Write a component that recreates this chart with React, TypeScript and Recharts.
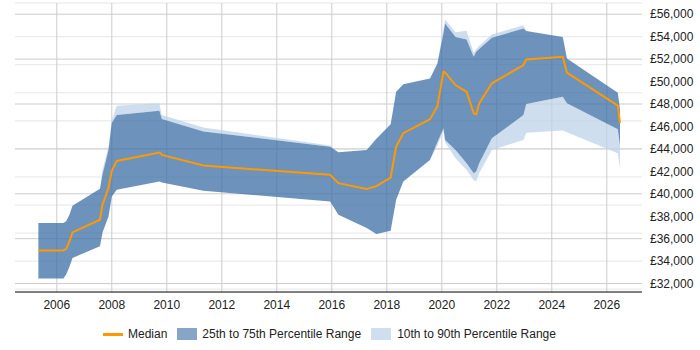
import React from 'react';
import { ComposedChart, Area, Line, XAxis, YAxis, CartesianGrid, Legend } from 'recharts';

// salary percentiles over time
const years = [
  2005.33, 2006.24, 2006.34, 2006.46, 2006.57, 2007.57, 2007.66, 2007.88, 2008.0, 2008.18,
  2009.73, 2009.82, 2011.33, 2015.94, 2016.24, 2017.27, 2017.62, 2018.14, 2018.34, 2018.6,
  2019.57, 2019.84, 2020.06, 2020.12, 2020.5, 2020.9, 2021.16, 2021.25, 2021.36, 2021.82,
  2022.97, 2023.07, 2024.4, 2024.55, 2026.4, 2026.48,
];
const median = [
  34950, 34950, 35100, 35760, 36560, 37690, 39020, 40510, 42040, 42930,
  43670, 43470, 42520, 41690, 40950, 40440, 40680, 41450, 44200, 45400,
  46650, 47800, 50870, 50800, 49690, 49090, 47170, 47080, 48060, 49840,
  51470, 51970, 52210, 50790, 47850, 46300,
];
const p25 = [
  32450, 32450, 32800, 33500, 34290, 35320, 36530, 37980, 39760, 40350,
  41100, 41000, 40270, 39320, 38130, 36950, 36420, 36700, 39470, 41090,
  43020, 44600, 45840, 44800, 43910, 42730, 41840, 41990, 42730, 44950,
  47020, 48000, 48650, 48060, 45750, 44300,
];
const p75 = [
  37400, 37400, 37550, 38130, 38930, 40440, 41700, 43900, 46300, 47020,
  47400, 46670, 45540, 44200, 43710, 43910, 44900, 46200, 49090, 49750,
  50280, 51620, 54300, 55170, 53980, 53750, 52210, 52650, 52900, 53900,
  54730, 54500, 53980, 52060, 49000, 47500,
];
const p10 = [
  32450, 32450, 32800, 33500, 34290, 35320, 36530, 37980, 39760, 40350,
  41100, 41000, 40270, 39320, 38130, 36950, 36420, 36700, 39470, 41090,
  43020, 44300, 45600, 44600, 43170, 42130, 41240, 41090, 41840, 43910,
  44800, 45450, 45630, 45480, 43620, 42300,
];
const p90 = [
  37400, 37400, 37550, 38130, 38930, 40440, 42130, 44200, 46580, 47850,
  48060, 47020, 45900, 44300, 43710, 43910, 44900, 46200, 49090, 49750,
  50280, 51620, 54700, 55530, 54400, 54520, 52600, 52900, 53200, 54200,
  55020, 54500, 53980, 52060, 49000, 47500,
];

const yearTicks = [2006, 2008, 2010, 2012, 2014, 2016, 2018, 2020, 2022, 2024, 2026];
const salaryTicks = [32000, 34000, 36000, 38000, 40000, 42000, 44000, 46000, 48000, 50000, 52000, 54000, 56000];
const minorTicks = Array.from({ length: 52 }, (_, i) => 31500 + i * 500);

const rows = years.map((year, i) => ({
  year,
  median: median[i],
  lowBand: [p10[i], p25[i]],
  midBand: [p25[i], p75[i]],
  highBand: [p75[i], p90[i]],
}));

const FONT = '"Liberation Sans", Arial, sans-serif';

const ChartLegend = () => (
  <div
    style={{
      display: 'flex',
      alignItems: 'center',
      height: 24,
      paddingLeft: 103,
      fontFamily: FONT,
      fontSize: 12,
      color: '#222',
    }}
  >
    <span style={{ width: 20, height: 3, background: '#ff9900', display: 'inline-block' }} />
    <span style={{ marginLeft: 5 }}>Median</span>
    <span style={{ marginLeft: 10, width: 20, height: 12, background: '#87a5c6', display: 'inline-block' }} />
    <span style={{ marginLeft: 5 }}>25th to 75th Percentile Range</span>
    <span style={{ marginLeft: 10, width: 20, height: 12, background: '#d0dfef', display: 'inline-block' }} />
    <span style={{ marginLeft: 6 }}>10th to 90th Percentile Range</span>
  </div>
);

export default function App() {
  return (
    <div style={{ position: 'absolute', left: 0, top: 0, width: 700, height: 350, background: '#fff' }}>
      <ComposedChart width={700} height={350} data={rows} margin={{ top: 3, right: 0, left: 15, bottom: 4 }}>
        <CartesianGrid horizontalValues={minorTicks} vertical={false} stroke="#e6e6e6" />
        <CartesianGrid horizontalValues={salaryTicks} verticalValues={yearTicks} stroke="#cccccc" />
        <XAxis
          dataKey="year"
          type="number"
          domain={[2004.48, 2027.28]}
          ticks={yearTicks}
          allowDataOverflow
          tickLine={false}
          axisLine={{ stroke: '#000' }}
          height={30}
          tick={{ fontSize: 12, fill: '#222', fontFamily: FONT }}
        />
        <YAxis
          orientation="right"
          type="number"
          domain={[31250, 57000]}
          ticks={salaryTicks}
          allowDataOverflow
          axisLine={false}
          tickLine={false}
          width={58}
          tickFormatter={(v: number) => `£${v.toLocaleString('en-GB')}`}
          tick={{ fontSize: 12, fill: '#222', fontFamily: FONT }}
        />
        <Legend verticalAlign="bottom" height={24} wrapperStyle={{ left: 0, width: 700 }} content={() => <ChartLegend />} />
        <Area type="linear" dataKey="lowBand" stroke="none" fill="#bed3e9" fillOpacity={0.75} isAnimationActive={false} />
        <Area type="linear" dataKey="highBand" stroke="none" fill="#bed3e9" fillOpacity={0.75} isAnimationActive={false} />
        <Area type="linear" dataKey="midBand" stroke="none" fill="#3c6ea5" fillOpacity={0.75} isAnimationActive={false} />
        <Line type="linear" dataKey="median" stroke="#ff9900" strokeWidth={2} dot={false} activeDot={false} isAnimationActive={false} />
      </ComposedChart>
    </div>
  );
}
